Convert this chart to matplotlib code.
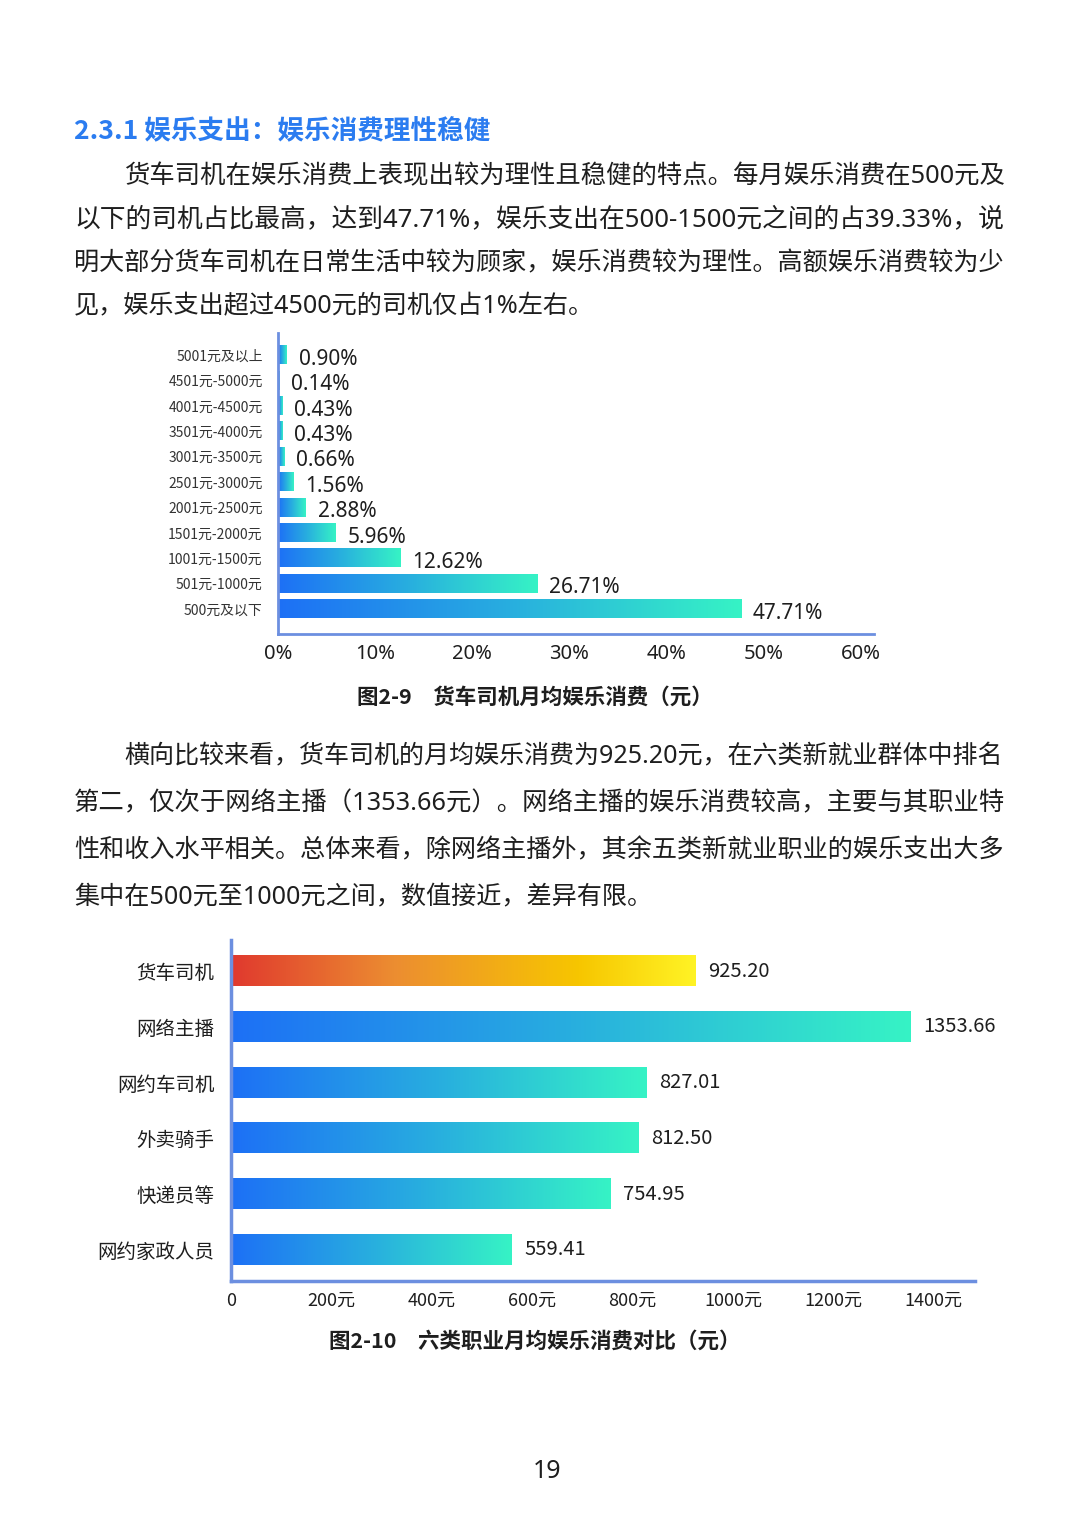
import numpy as np
import matplotlib
matplotlib.use("Agg")
import matplotlib.pyplot as plt
from matplotlib.colors import LinearSegmentedColormap

plt.rcParams['font.family'] = ['Noto Sans CJK SC', 'DejaVu Sans']
latin = ['Noto Sans', 'Noto Sans CJK SC']

W, H = 1080, 1527

# chart 1 data (bottom to top)
cats1 = ['500元及以下', '501元-1000元', '1001元-1500元', '1501元-2000元',
         '2001元-2500元', '2501元-3000元', '3001元-3500元', '3501元-4000元',
         '4001元-4500元', '4501元-5000元', '5001元及以上']
pct1 = [47.71, 26.71, 12.62, 5.96, 2.88, 1.56, 0.66, 0.43, 0.43, 0.14, 0.90]
ticks1 = [0, 10, 20, 30, 40, 50, 60]

# chart 2 data (bottom to top)
cats2 = ['网约家政人员', '快递员等', '外卖骑手', '网约车司机', '网络主播', '货车司机']
vals2 = [559.41, 754.95, 812.50, 827.01, 1353.66, 925.20]
ticks2 = [0, 200, 400, 600, 800, 1000, 1200, 1400]

para1 = ["货车司机在娱乐消费上表现出较为理性且稳健的特点。每月娱乐消费在500元及",
         "以下的司机占比最高，达到47.71%，娱乐支出在500-1500元之间的占39.33%，说",
         "明大部分货车司机在日常生活中较为顾家，娱乐消费较为理性。高额娱乐消费较为少",
         "见，娱乐支出超过4500元的司机仅占1%左右。"]
para2 = ["横向比较来看，货车司机的月均娱乐消费为925.20元，在六类新就业群体中排名",
         "第二，仅次于网络主播（1353.66元）。网络主播的娱乐消费较高，主要与其职业特",
         "性和收入水平相关。总体来看，除网络主播外，其余五类新就业职业的娱乐支出大多",
         "集中在500元至1000元之间，数值接近，差异有限。"]

blue_cm = LinearSegmentedColormap.from_list('bl', ['#1d70f6', '#28aedf', '#36f3c5'])
orange_cm = LinearSegmentedColormap.from_list('or', [(0, '#e0392e'), (0.35, '#ec8d31'),
                                                     (0.75, '#f7c600'), (1, '#fff325')])
spine_c = '#6c8fe0'
txt_c = '#1e1e1e'

fig = plt.figure(figsize=(W / 100, H / 100), dpi=100)
renderer = fig.canvas.get_renderer()


def px_axes(left, right, top, bottom):
    return fig.add_axes([left / W, 1 - bottom / H, (right - left) / W, (bottom - top) / H])


def line(s, x0, y, x1=None, size=18.3, **kw):
    t = fig.text(x0 / W, 1 - y / H, s, fontsize=size, va='center', ha='left',
                 color=kw.pop('color', txt_c), **kw)
    if x1 is not None:
        w = t.get_window_extent(renderer).width
        t.set_fontsize(size * (x1 - x0) / w)
    return t


def grad_bars(ax, bars, cmap):
    g = np.linspace(0, 1, 256).reshape(1, -1)
    for b in bars:
        x, y = b.get_x(), b.get_y()
        w, h = b.get_width(), b.get_height()
        ax.imshow(g, cmap=cmap, extent=[x, x + w, y, y + h], aspect='auto',
                  interpolation='bicubic', zorder=2)
        b.set_facecolor('none')


def style(ax, lw):
    for s in ['top', 'right']:
        ax.spines[s].set_visible(False)
    for s in ['left', 'bottom']:
        ax.spines[s].set_color(spine_c)
        ax.spines[s].set_linewidth(lw)
    ax.tick_params(length=0)


# heading and first paragraph
line("2.3.1 娱乐支出：娱乐消费理性稳健", 74, 132, 490, size=19, color='#2b7cf0',
     weight='bold')
ys1 = [177, 220, 264, 307]
for i, s in enumerate(para1):
    x0 = 124 if i == 0 else 74
    line(s, x0, ys1[i], 1004 if i < len(para1) - 1 else None, size=18.1, family=latin)

# chart 1
ax1 = px_axes(278, 874, 333, 634)
pos1 = np.arange(len(cats1))
b1 = ax1.barh(pos1, pct1, height=0.71, color='none')
grad_bars(ax1, b1, blue_cm)
for p, v in zip(pos1, pct1):
    ax1.annotate(f"{v:.2f}%", (v, p), xytext=(8.5, -3), textcoords='offset points',
                 va='center', ha='left', fontsize=15, color=txt_c, family=latin)
ax1.set_xlim(0, 61.4)
ax1.set_ylim(-0.98, 10.87)
ax1.set_yticks(pos1)
ax1.set_yticklabels(cats1, fontsize=10, color='#333333')
ax1.set_xticks(ticks1)
ax1.set_xticklabels([f"{t}%" for t in ticks1], fontsize=14.5, color=txt_c, family=latin)
ax1.tick_params(axis='y', pad=11)
ax1.tick_params(axis='x', pad=7)
style(ax1, 2)

fig.text(535 / W, 1 - 697 / H, "图2-9\u3000货车司机月均娱乐消费（元）", ha='center',
         va='center', fontsize=15.5, weight='bold', color=txt_c)

# second paragraph
ys2 = [757, 804, 851, 898]
for i, s in enumerate(para2):
    x0 = 124 if i == 0 else 74
    line(s, x0, ys2[i], 1004 if i < len(para2) - 1 else None, size=18.1, family=latin)

# chart 2
ax2 = px_axes(231, 975, 940, 1281)
pos2 = np.arange(len(cats2))
b2 = ax2.barh(pos2, vals2, height=0.54, color='none')
grad_bars(ax2, b2[:-1], blue_cm)
grad_bars(ax2, b2[-1:], orange_cm)
for p, v in zip(pos2, vals2):
    ax2.annotate(f"{v:.2f}", (v, p), xytext=(9, 0), textcoords='offset points',
                 va='center', ha='left', fontsize=14.5, color=txt_c)
ax2.set_xlim(0, 1482)
ax2.set_ylim(-0.56, 5.56)
ax2.set_yticks(pos2)
ax2.set_yticklabels(cats2, fontsize=14, color=txt_c)
ax2.set_xticks(ticks2)
ax2.set_xticklabels(["0"] + [f"{t}元" for t in ticks2[1:]], fontsize=13, color=txt_c)
ax2.tick_params(axis='y', pad=12)
ax2.tick_params(axis='x', pad=8)
style(ax2, 2.5)

fig.text(535 / W, 1 - 1341 / H, "图2-10\u3000六类职业月均娱乐消费对比（元）", ha='center',
         va='center', fontsize=15.5, weight='bold', color=txt_c)

fig.text(547 / W, 1 - 1472 / H, "19", ha='center', va='center', fontsize=18, color=txt_c,
         family=latin)

fig.savefig("out.png", dpi=100, facecolor='white')
